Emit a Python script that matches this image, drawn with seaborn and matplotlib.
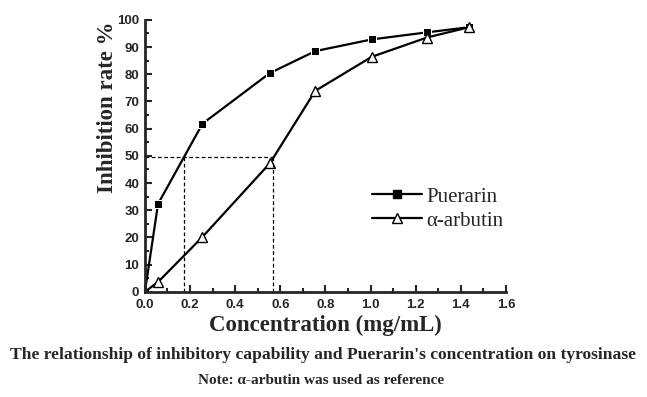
import numpy as np
import matplotlib.pyplot as plt
import pandas as pd
import seaborn as sns
from matplotlib.ticker import MultipleLocator
from matplotlib.lines import Line2D

# data
conc_puerarin = [0.0, 0.058, 0.255, 0.553, 0.755, 1.005, 1.25, 1.437]
rate_puerarin = [0.0, 32.3, 61.8, 80.4, 88.5, 92.8, 95.4, 97.3]
conc_arbutin = [0.0, 0.058, 0.253, 0.554, 0.755, 1.005, 1.25, 1.437]
rate_arbutin = [0.0, 3.6, 20.0, 47.3, 73.9, 86.4, 93.5, 97.3]
ic50_level = 49.5
ic50_puerarin = 0.175
ic50_arbutin = 0.567

df_p = pd.DataFrame({'conc': conc_puerarin, 'rate': rate_puerarin})
df_a = pd.DataFrame({'conc': conc_arbutin, 'rate': rate_arbutin})

sns.set_style('ticks')
fig = plt.figure(figsize=(6.47, 3.97), dpi=100)
ax = fig.add_axes([0.224, 0.265, 0.558, 0.685])

sns.lineplot(data=df_p, x='conc', y='rate', color='black', marker='s',
             markersize=6, linewidth=1.6, ax=ax, sort=False)
sns.lineplot(data=df_a, x='conc', y='rate', color='black', marker='^',
             markersize=7, linewidth=1.6, markerfacecolor='white',
             markeredgecolor='black', markeredgewidth=1.0, ax=ax, sort=False)

# dashed guide lines for IC50
ax.plot([0, ic50_arbutin], [ic50_level, ic50_level], color='black', lw=0.9, dashes=(3, 2))
ax.plot([ic50_puerarin, ic50_puerarin], [0, ic50_level], color='black', lw=0.9, dashes=(3, 2))
ax.plot([ic50_arbutin, ic50_arbutin], [0, ic50_level], color='black', lw=0.9, dashes=(3, 2))

ax.set_xlim(0, 1.6)
ax.set_ylim(0, 100)
ax.xaxis.set_major_locator(MultipleLocator(0.2))
ax.xaxis.set_minor_locator(MultipleLocator(0.1))
ax.yaxis.set_major_locator(MultipleLocator(10))
ax.yaxis.set_minor_locator(MultipleLocator(5))
ax.set_xticks(np.arange(0, 1.61, 0.2))
ax.set_xticklabels([f'{v:.1f}' for v in np.arange(0, 1.61, 0.2)])
ax.tick_params(direction='in', which='both', width=1.5)
ax.tick_params(which='major', length=5, labelsize=9.5)
ax.tick_params(axis='x', pad=5)
ax.tick_params(axis='y', pad=4)
ax.tick_params(which='minor', length=3)
for lab in ax.get_xticklabels() + ax.get_yticklabels():
    lab.set_fontfamily('Liberation Sans')
    lab.set_fontweight('bold')
for s in ['left', 'bottom']:
    ax.spines[s].set_linewidth(2)
sns.despine(ax=ax)

ax.set_xlabel('Concentration (mg/mL)', fontfamily='Liberation Serif',
              fontweight='bold', fontsize=16.5, labelpad=3)
ax.set_ylabel('Inhibition rate %', fontfamily='Liberation Serif',
              fontweight='bold', fontsize=16.5)
ax.yaxis.set_label_coords(-0.075, 0.68)

handles = [
    Line2D([], [], color='black', lw=1.6, marker='s', markersize=6),
    Line2D([], [], color='black', lw=1.6, marker='^', markersize=7,
           markerfacecolor='white', markeredgewidth=1.0),
]
ax.legend(handles, ['Puerarin', 'α-arbutin'], loc='center left',
          bbox_to_anchor=(0.578, 0.305), frameon=False,
          prop={'family': 'Liberation Serif', 'size': 15},
          handlelength=2.4, handletextpad=0.2, labelspacing=0.2)

fig.text(0.5, 0.105, "The relationship of inhibitory capability and Puerarin's concentration on tyrosinase",
         ha='center', va='center', fontfamily='Liberation Serif', fontweight='bold', fontsize=12.6)
fig.text(0.496, 0.042, 'Note: α-arbutin was used as reference', ha='center', va='center',
         fontfamily='Liberation Serif', fontweight='bold', fontsize=11)

fig.savefig('out.png', dpi=100)
